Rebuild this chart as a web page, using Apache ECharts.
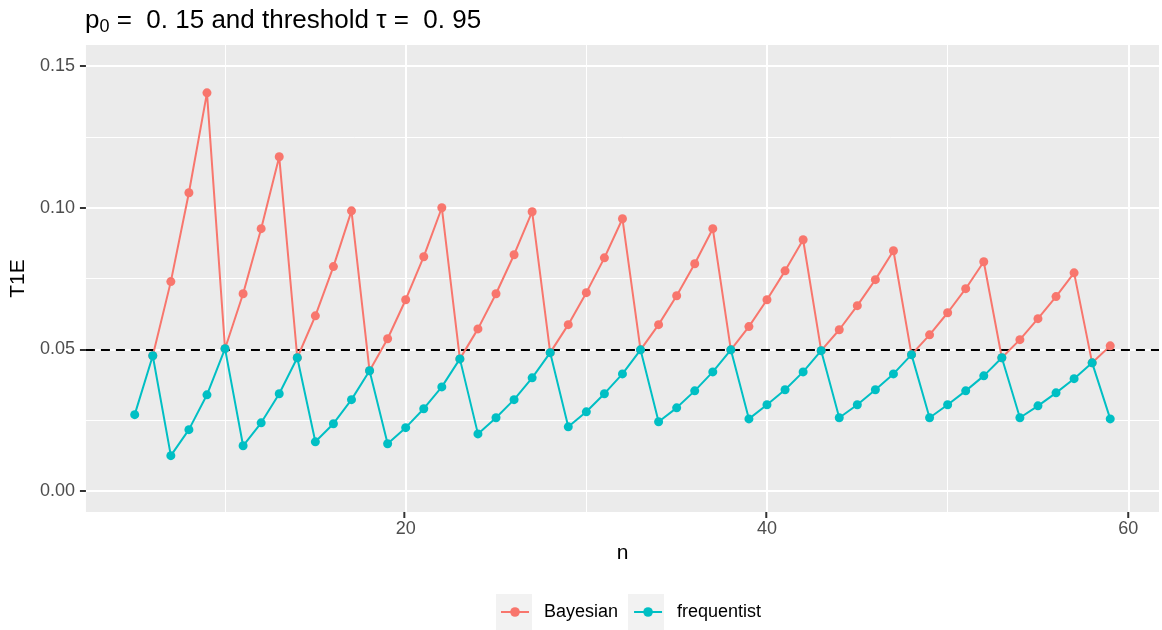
<!DOCTYPE html>
<html>
<head>
<meta charset="utf-8">
<script src="https://cdn.jsdelivr.net/npm/echarts@6/dist/echarts.min.js"></script>
<style>
  html, body { margin: 0; padding: 0; background: #fff; }
  #chart { width: 1162px; height: 630px; }
</style>
</head>
<body>
<div id="chart"></div>
<script>
// sample sizes
var nBayes = [6, 7, 8, 9, 10, 11, 12, 13, 14, 15, 16, 17, 18, 19, 20, 21, 22, 23, 24, 25, 26, 27, 28, 29, 30, 31, 32,
    33, 34, 35, 36, 37, 38, 39, 40, 41, 42, 43, 44, 45, 46, 47, 48, 49, 50, 51, 52, 53, 54, 55, 56, 57, 58, 59];
var nFreq = [5, 6, 7, 8, 9, 10, 11, 12, 13, 14, 15, 16, 17, 18, 19, 20, 21, 22, 23, 24, 25, 26, 27, 28, 29, 30, 31, 32,
    33, 34, 35, 36, 37, 38, 39, 40, 41, 42, 43, 44, 45, 46, 47, 48, 49, 50, 51, 52, 53, 54, 55, 56, 57, 58, 59];

// type I error
var t1eBayes = [0.0477, 0.0739, 0.1053, 0.1406, 0.0502, 0.0696, 0.0926, 0.1180, 0.0470, 0.0618, 0.0792, 0.0989,
    0.0424, 0.0537, 0.0675, 0.0827, 0.1000, 0.0466, 0.0572, 0.0696, 0.0834, 0.0986, 0.0488, 0.0587, 0.0700,
    0.0823, 0.0961, 0.0498, 0.0587, 0.0689, 0.0802, 0.0926, 0.0498, 0.0580, 0.0675, 0.0777, 0.0887, 0.0495,
    0.0569, 0.0654, 0.0746, 0.0848, 0.0481, 0.0551, 0.0629, 0.0714, 0.0809, 0.0470, 0.0534, 0.0608, 0.0686,
    0.0770, 0.0452, 0.0512];
var t1eFreq = [0.0269, 0.0477, 0.0124, 0.0216, 0.0339, 0.0502, 0.0159, 0.0240, 0.0343, 0.0470, 0.0173, 0.0237,
    0.0322, 0.0424, 0.0166, 0.0223, 0.0290, 0.0367, 0.0466, 0.0201, 0.0258, 0.0322, 0.0399, 0.0488, 0.0226,
    0.0279, 0.0343, 0.0413, 0.0498, 0.0244, 0.0293, 0.0353, 0.0420, 0.0498, 0.0254, 0.0304, 0.0357, 0.0420,
    0.0495, 0.0258, 0.0304, 0.0357, 0.0413, 0.0481, 0.0258, 0.0304, 0.0353, 0.0406, 0.0470, 0.0258, 0.0300,
    0.0346, 0.0396, 0.0452, 0.0254];

var alpha = 0.05;

// ticks
var xMajor = [20, 40, 60];
var xMinor = [10, 30, 50];
var yMajor = [0, 0.05, 0.10, 0.15];
var yMinor = [0.025, 0.075, 0.125];

function pairs(xs, ys) {
    return xs.map(function (x, i) { return [x, ys[i]]; });
}

var FONT = '"Liberation Sans", Arial, Helvetica, sans-serif';
var RED = '#F8766D';
var CYAN = '#00BFC4';

var chart = echarts.init(document.getElementById('chart'));

var option = {
    animation: false,
    backgroundColor: '#ffffff',
    textStyle: { fontFamily: FONT },
    title: {
        text: '{p|p}{sub|0}{p| =  0. 15 and threshold τ =  0. 95}',
        left: 80,
        top: 1,
        textStyle: {
            fontWeight: 'normal',
            rich: {
                p: { fontSize: 26, color: '#000', fontFamily: FONT, fontWeight: 'normal' },
                sub: { fontSize: 18, color: '#000', fontFamily: FONT, fontWeight: 'normal', verticalAlign: 'bottom', padding: [12, 0, 0, 0] }
            }
        }
    },
    grid: [
        {   // the panel
            left: 84, right: 3, top: 45, bottom: 118,
            show: true, backgroundColor: '#EBEBEB', borderWidth: 0
        },
        {   // thin strip under the panel that holds the x ticks
            left: 84, right: 3, top: 512, height: 6,
            show: false
        }
    ],
    xAxis: [
        {
            type: 'value', min: 2.3, max: 61.7, position: 'bottom',
            name: 'n', nameLocation: 'middle', nameGap: 28,
            nameTextStyle: { fontSize: 21, color: '#000', fontFamily: FONT },
            axisLine: { show: false, onZero: false },
            axisTick: { show: false, customValues: xMajor },
            axisLabel: { customValues: xMajor, margin: 8, fontSize: 18, color: '#4D4D4D', fontFamily: FONT },
            splitLine: { show: true, lineStyle: { color: '#fff', width: 2 } }
        },
        {
            type: 'value', min: 2.3, max: 61.7, position: 'top',
            axisLine: { show: false, onZero: false },
            axisTick: { show: false, customValues: xMinor },
            axisLabel: { show: false, customValues: xMinor },
            splitLine: { show: true, lineStyle: { color: '#fff', width: 1 } }
        },
        {
            gridIndex: 1, type: 'value', min: 2.3, max: 61.7, show: false
        }
    ],
    yAxis: [
        {
            type: 'value', min: -0.0075, max: 0.1575,
            name: 'T1E', nameLocation: 'middle', nameGap: 56,
            nameTextStyle: { fontSize: 21, color: '#000', fontFamily: FONT },
            axisLine: { show: false, onZero: false },
            axisTick: { show: true, length: 6, customValues: yMajor, lineStyle: { color: '#333', width: 2 } },
            axisLabel: {
                customValues: yMajor, margin: 11, fontSize: 18, color: '#4D4D4D', fontFamily: FONT,
                formatter: function (v) { return v.toFixed(2); }
            },
            splitLine: { show: true, lineStyle: { color: '#fff', width: 2 } }
        },
        {
            type: 'value', min: -0.0075, max: 0.1575,
            axisLine: { show: false, onZero: false },
            axisTick: { show: false, customValues: yMinor },
            axisLabel: { show: false, customValues: yMinor },
            splitLine: { show: true, lineStyle: { color: '#fff', width: 1 } }
        },
        {
            gridIndex: 1, type: 'value', min: 0, max: 1, show: false
        }
    ],
    legend: {
        left: 500, top: 603, padding: 0,
        itemWidth: 28, itemHeight: 12, itemGap: 15,
        data: ['Bayesian', 'frequentist'],
        textStyle: { fontSize: 18, color: '#000', fontFamily: FONT, padding: [0, 0, 0, 10] }
    },
    graphic: [
        { type: 'rect', left: 496, top: 594, shape: { width: 36, height: 36 }, style: { fill: '#F2F2F2' }, z: -1 },
        { type: 'rect', left: 628, top: 594, shape: { width: 36, height: 36 }, style: { fill: '#F2F2F2' }, z: -1 }
    ],
    series: [
        {
            name: 'Bayesian', type: 'line',
            data: pairs(nBayes, t1eBayes),
            symbol: 'circle', symbolSize: 9,
            itemStyle: { color: RED },
            lineStyle: { color: RED, width: 2 },
            z: 3,
            markLine: {
                silent: true, symbol: 'none', label: { show: false },
                lineStyle: { color: '#000', type: [9, 6], width: 2 },
                data: [{ yAxis: alpha }],
                z: 2
            }
        },
        {
            name: 'frequentist', type: 'line',
            data: pairs(nFreq, t1eFreq),
            symbol: 'circle', symbolSize: 9,
            itemStyle: { color: CYAN },
            lineStyle: { color: CYAN, width: 2 },
            z: 4
        },
        {   // x-axis tick marks, one thin bar per major tick
            name: 'xticks', type: 'bar',
            xAxisIndex: 2, yAxisIndex: 2,
            data: xMajor.map(function (v) { return [v, 1]; }),
            barWidth: 2,
            itemStyle: { color: '#333333' },
            silent: true,
            z: 5
        }
    ]
};

chart.setOption(option);
</script>
</body>
</html>
